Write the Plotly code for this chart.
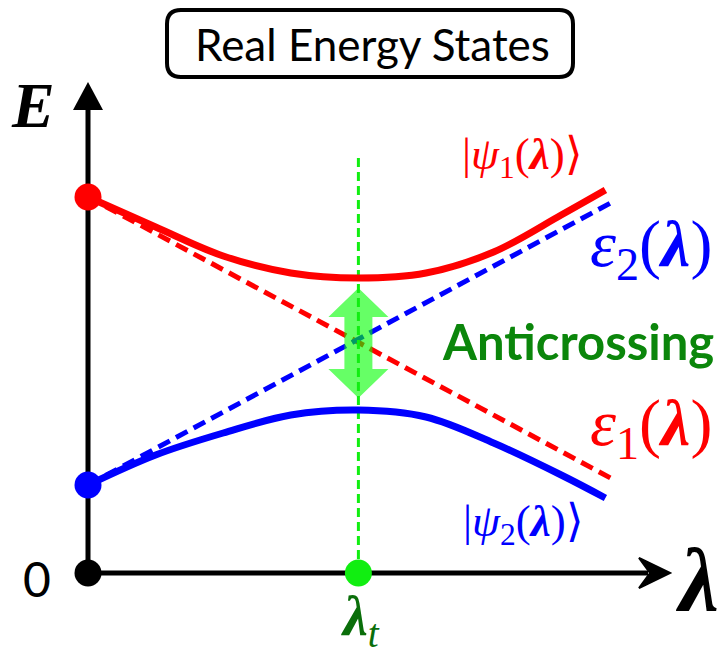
import plotly.graph_objects as go

# ---------------- data ----------------
lam = [0.0, 0.13, 0.26, 0.39, 0.52, 0.65, 0.78, 0.91, 0.995]
psi1 = [3.76, 3.46, 3.17, 3.00, 2.95, 3.00, 3.21, 3.58, 3.83]   # upper adiabatic state |psi1>
psi2 = [0.88, 1.18, 1.40, 1.58, 1.63, 1.56, 1.30, 0.98, 0.75]   # lower adiabatic state |psi2>

lam_diab = [0.0, 1.005]
eps1 = [3.76, 0.95]   # diabatic energy eps1 (red dashed)
eps2 = [0.88, 3.70]   # diabatic energy eps2 (blue dashed)

lam_t = 0.52          # anticrossing point
i_t = lam.index(lam_t)

# ---------------- geometry helpers ----------------
W, H = 727, 657
PX_LAM = 520.0   # pixels per unit lambda
PX_E = 100.0     # pixels per unit E
x_range = [-88 / PX_LAM, (W - 88) / PX_LAM]
y_range = [(573 - H) / PX_E, 573 / PX_E]

def dl(px):
    return px / PX_LAM

def de(px):
    return px / PX_E

lam_axis_end = dl(670 - 88)
E_axis_end = de(573 - 82)

fig = go.Figure()

# diabatic (dashed) lines
fig.add_trace(go.Scatter(x=lam_diab, y=eps1, mode="lines",
                         line=dict(color="#ff0000", width=5, dash="13px,7px"),
                         hoverinfo="skip"))
fig.add_trace(go.Scatter(x=lam_diab, y=eps2, mode="lines",
                         line=dict(color="#0000ff", width=5, dash="13px,7px"),
                         hoverinfo="skip"))

# green double arrow at the anticrossing
top = psi1[i_t] - 0.10
bot = psi2[i_t] + 0.12
hh, hw, sw = de(29), dl(30), dl(14)
cx = lam_t
ax_x = [cx, cx + hw, cx + sw, cx + sw, cx + hw, cx, cx - hw, cx - sw, cx - sw, cx - hw, cx]
ax_y = [top, top - hh, top - hh, bot + hh, bot + hh, bot, bot + hh, bot + hh, top - hh, top - hh, top]
fig.add_trace(go.Scatter(x=ax_x, y=ax_y, mode="lines", fill="toself",
                         fillcolor="rgba(0,255,0,0.6)", line=dict(width=0),
                         hoverinfo="skip"))

# vertical green dashed line at lambda_t
fig.add_trace(go.Scatter(x=[lam_t, lam_t], y=[0, de(573 - 157)], mode="lines",
                         line=dict(color="#11ee11", width=3, dash="9px,5px"),
                         hoverinfo="skip"))

# adiabatic (solid) curves
fig.add_trace(go.Scatter(x=lam, y=psi1, mode="lines",
                         line=dict(color="#ff0000", width=7, shape="spline", smoothing=1.0),
                         hoverinfo="skip"))
fig.add_trace(go.Scatter(x=lam, y=psi2, mode="lines",
                         line=dict(color="#0000ff", width=7, shape="spline", smoothing=1.0),
                         hoverinfo="skip"))

# dots
fig.add_trace(go.Scatter(x=[0, 0, 0, lam_t], y=[psi1[0], psi2[0], 0, 0], mode="markers",
                         marker=dict(size=27, color=["#ff0000", "#0000ff", "#000000", "#11ee11"],
                                     line=dict(width=0)),
                         hoverinfo="skip"))

shapes = []
# axes lines
shapes.append(dict(type="line", xref="x", yref="y", x0=0, y0=0, x1=0, y1=E_axis_end - de(22),
                   line=dict(color="black", width=5), layer="below"))
shapes.append(dict(type="line", xref="x", yref="y", x0=0, y0=0, x1=lam_axis_end - dl(22), y1=0,
                   line=dict(color="black", width=5), layer="below"))
# y arrowhead (triangle)
yh = E_axis_end
shapes.append(dict(type="path", xref="x", yref="y",
                   path=f"M {0},{yh} L {dl(15)},{yh - de(28)} L {-dl(15)},{yh - de(28)} Z",
                   fillcolor="black", line=dict(width=0), layer="below"))
# x arrowhead (barbed)
xt = lam_axis_end
shapes.append(dict(type="path", xref="x", yref="y",
                   path=(f"M {xt},0 L {xt - dl(31)},{de(15)} L {xt - dl(20)},0 "
                         f"L {xt - dl(31)},{-de(15)} Z"),
                   fillcolor="black", line=dict(color="black", width=2), layer="below"))

# title box with rounded corners (paper coords)
def px(x):
    return x / W

def py(y):
    return 1 - y / H

L_, R_, T_, B_, r = 167, 573, 10, 77, 14
box = (f"M {px(L_ + r)},{py(T_)} L {px(R_ - r)},{py(T_)} Q {px(R_)},{py(T_)} {px(R_)},{py(T_ + r)} "
       f"L {px(R_)},{py(B_ - r)} Q {px(R_)},{py(B_)} {px(R_ - r)},{py(B_)} "
       f"L {px(L_ + r)},{py(B_)} Q {px(L_)},{py(B_)} {px(L_)},{py(B_ - r)} "
       f"L {px(L_)},{py(T_ + r)} Q {px(L_)},{py(T_)} {px(L_ + r)},{py(T_)} Z")
shapes.append(dict(type="path", xref="paper", yref="paper", path=box,
                   line=dict(color="black", width=4), fillcolor="white"))

serif = "Liberation Serif"
sans = "Lato"

annotations = [
    dict(xref="paper", yref="paper", x=px(372), y=py(44), text="Real Energy States",
         font=dict(family=sans, size=44, color="black")),
    dict(xref="x", yref="y", x=dl(33 - 88), y=de(573 - 105), text="<b><i>E</i></b>",
         font=dict(family=serif, size=64, color="black")),
    dict(xref="x", yref="y", x=dl(37 - 88), y=de(573 - 578), text="0",
         font=dict(family=sans, size=48, color="black")),
    dict(xref="x", yref="y", x=dl(697 - 88), y=de(573 - 580), text="<b><i>λ</i></b>",
         font=dict(family=serif, size=90, color="black")),
    dict(xref="x", yref="y", x=dl(360 - 88), y=de(573 - 620), text="<b><i>λ</i></b><sub><i>t</i></sub>",
         font=dict(family=serif, size=56, color="#0a6e0a")),
    dict(xref="x", yref="y", x=dl(522 - 88), y=de(573 - 157),
         text="|<i>ψ</i><sub>1</sub>(<b><i>λ</i></b>)⟩",
         font=dict(family=serif, size=45, color="#ff0000")),
    dict(xref="x", yref="y", x=dl(651 - 88), y=de(573 - 248),
         text="<i>ε</i><sub>2</sub>(<b><i>λ</i></b>)",
         font=dict(family=serif, size=66, color="#0000ff")),
    dict(xref="x", yref="y", x=dl(578 - 88), y=de(573 - 341), text="<b>Anticrossing</b>",
         font=dict(family=sans, size=49, color="#0b860b")),
    dict(xref="x", yref="y", x=dl(651 - 88), y=de(573 - 427),
         text="<i>ε</i><sub>1</sub>(<b><i>λ</i></b>)",
         font=dict(family=serif, size=66, color="#ff0000")),
    dict(xref="x", yref="y", x=dl(523 - 88), y=de(573 - 524),
         text="|<i>ψ</i><sub>2</sub>(<b><i>λ</i></b>)⟩",
         font=dict(family=serif, size=45, color="#0000ff")),
]
for a in annotations:
    a["showarrow"] = False
    a["xanchor"] = "center"
    a["yanchor"] = "middle"

fig.update_layout(
    width=W, height=H, autosize=False,
    margin=dict(l=0, r=0, t=0, b=0),
    paper_bgcolor="white", plot_bgcolor="white",
    showlegend=False,
    xaxis=dict(range=x_range, visible=False, fixedrange=True),
    yaxis=dict(range=y_range, visible=False, fixedrange=True),
    shapes=shapes,
    annotations=annotations,
)

fig.write_html("out.html", config={"displayModeBar": False},
               post_script="document.body.style.margin='0px';document.body.style.overflow='hidden';")
